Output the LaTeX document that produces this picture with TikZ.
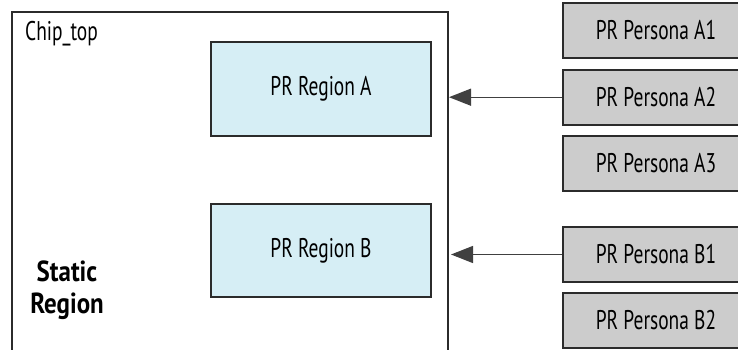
\documentclass[tikz,border=0pt]{standalone}
\usepackage{fontspec}
\setmainfont{PT Sans}[FakeStretch=0.72, BoldFeatures={FakeStretch=0.86}]
\usetikzlibrary{arrows.meta}
\definecolor{regfill}{HTML}{D6EEF5}
\definecolor{persfill}{HTML}{CCCCCC}
\definecolor{edge}{HTML}{2B2B2B}
\begin{document}
\begin{tikzpicture}[x=1pt,y=-1pt,
  lbl/.style={font=\fontsize{27}{32}\selectfont, text=black},
  region/.style={draw=edge, line width=1.5pt, fill=regfill, minimum width=220pt, minimum height=94pt, inner sep=0pt, lbl},
  persona/.style={draw=edge, line width=1.8pt, fill=persfill, minimum width=186pt, minimum height=55pt, inner sep=0pt, lbl},
  link/.style={draw=edge!90, line width=1.3pt, -{Triangle[length=22pt,width=17pt]}}
]
\useasboundingbox (0,0) rectangle (738,350);
\fill[white] (0,0) rectangle (738,350);
% chip top box (open at bottom)
\coordinate (cbl) at (12,352);
\coordinate (ctl) at (12,12);
\coordinate (ctr) at (448,12);
\coordinate (cbr) at (448,352);
\draw[edge, line width=1.4pt] (cbl) -- (ctl) -- (ctr) -- (cbr);
\node[lbl, anchor=base west, inner sep=0pt] (chip) at (25,41) {Chip\_top};
\node[lbl, font=\fontsize{29}{32}\selectfont\bfseries, align=center, inner sep=0pt] (static) at (67,290) {Static\\Region};
% regions
\node[region] (regA) at (321,89) {PR Region A};
\node[region, minimum height=93pt] (regB) at (321,250.5) {PR Region B};
% personas (cut off by the right edge)
\node[persona] (A1) at (656,30.3) {PR Persona A1};
\node[persona] (A2) at (656,97.2) {PR Persona A2};
\node[persona] (A3) at (656,163.5) {PR Persona A3};
\node[persona] (B1) at (656,254.5) {PR Persona B1};
\node[persona] (B2) at (656,320.5) {PR Persona B2};
% arrows
\coordinate (tipA) at (449,97);
\coordinate (tipB) at (451,254.5);
\draw[link] (A2.west) -- (A2.west -| tipA);
\draw[link] (B1.west) -- (B1.west -| tipB);
\end{tikzpicture}
\end{document}
